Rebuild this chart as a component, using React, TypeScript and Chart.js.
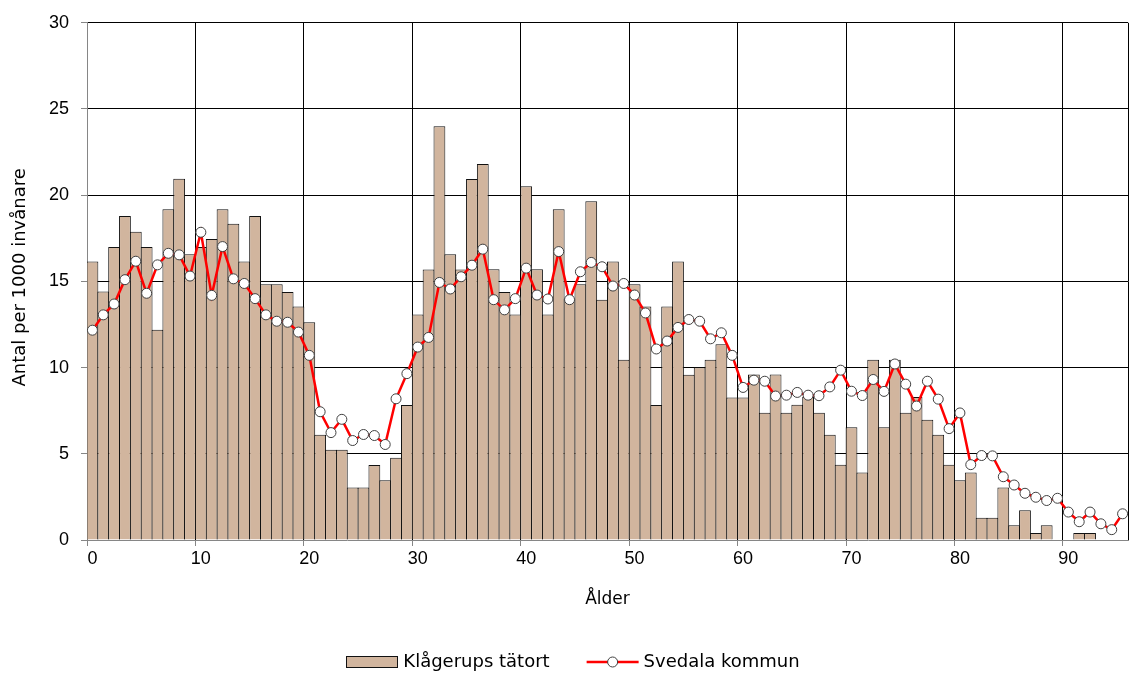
import { useEffect, useRef } from 'react';
import { Chart, registerables } from 'chart.js';

Chart.register(...registerables);

const TICK_FONT = 'Liberation Sans';
const TEXT_FONT = 'DejaVu Sans';

// Categories: age 0..95
const ages: string[] = Array.from({ length: 96 }, (_, i) => String(i));
const xTickLabels = ['0', '10', '20', '30', '40', '50', '60', '70', '80', '90'];

const yTitle = 'Antal per 1000 invånare';
const xTitle = 'Ålder';
const barName = 'Klågerups tätort';
const lineName = 'Svedala kommun';

const klagerup: number[] = [
  16.15, 14.42, 17.0, 18.79, 17.88, 17.0, 12.19, 19.19, 20.96, 16.58,
  17.0, 17.46, 19.19, 18.35, 16.15, 18.79, 14.83, 14.83, 14.38, 13.54,
  12.63, 6.1, 5.23, 5.23, 3.04, 3.04, 4.35, 3.46, 4.77, 7.83,
  13.08, 15.69, 24.0, 16.58, 15.69, 20.94, 21.81, 15.71, 14.38, 13.08,
  20.52, 15.71, 13.08, 19.19, 14.0, 14.83, 19.65, 13.94, 16.15, 10.46,
  14.83, 13.54, 7.83, 13.54, 16.15, 9.58, 10.02, 10.46, 11.35, 8.27,
  8.27, 9.6, 7.38, 9.6, 7.38, 7.85, 8.29, 7.38, 6.1, 4.37,
  6.54, 3.92, 10.46, 6.54, 10.46, 7.38, 8.29, 6.98, 6.1, 4.37,
  3.46, 3.92, 1.29, 1.29, 3.04, 0.85, 1.73, 0.4, 0.85, 0,
  0, 0.4, 0.4, 0, 0, 0,
];

const svedala: number[] = [
  12.17, 13.06, 13.69, 15.1, 16.17, 14.31, 15.96, 16.63, 16.54, 15.31,
  17.85, 14.19, 17.02, 15.15, 14.88, 14.0, 13.06, 12.69, 12.63, 12.06,
  10.71, 7.44, 6.23, 7.0, 5.77, 6.12, 6.06, 5.54, 8.19, 9.65,
  11.19, 11.75, 14.94, 14.56, 15.27, 15.94, 16.87, 13.94, 13.35, 14.0,
  15.77, 14.21, 13.98, 16.73, 13.94, 15.56, 16.1, 15.85, 14.73, 14.88,
  14.21, 13.17, 11.08, 11.54, 12.33, 12.79, 12.69, 11.67, 12.02, 10.71,
  8.85, 9.27, 9.21, 8.35, 8.4, 8.56, 8.4, 8.37, 8.88, 9.85,
  8.63, 8.38, 9.31, 8.62, 10.21, 9.04, 7.77, 9.21, 8.17, 6.46,
  7.37, 4.37, 4.9, 4.88, 3.67, 3.19, 2.71, 2.48, 2.29, 2.42,
  1.62, 1.06, 1.62, 0.94, 0.6, 1.52,
];

const BAR_FILL = '#D1B59E';
const BAR_EDGE = '#111111';
const LINE_RED = '#FF0000';
const AXIS_GRAY = '#868686';

const overlayPlugin = {
  id: 'overlay',
  afterDraw(chart: any) {
    const ctx = chart.ctx as CanvasRenderingContext2D;
    const area = chart.chartArea;
    ctx.save();
    ctx.font = `18px "${TEXT_FONT}"`;
    ctx.fillStyle = '#000';
    // y title
    ctx.save();
    ctx.translate(20, (area.top + area.bottom) / 2 - 4);
    ctx.rotate(-Math.PI / 2);
    ctx.textAlign = 'center';
    ctx.textBaseline = 'middle';
    ctx.fillText(yTitle, 0, 0);
    ctx.restore();

    // legend
    const cy = 662;
    const boxW = 51;
    const w1 = ctx.measureText(barName).width;
    const w2 = ctx.measureText(lineName).width;
    const total = boxW + 6 + w1 + 37 + 52 + 5 + w2;
    let x = 573 - total / 2;
    ctx.fillStyle = BAR_FILL;
    ctx.fillRect(x, cy - 5.5, boxW, 11);
    ctx.strokeStyle = BAR_EDGE;
    ctx.lineWidth = 1;
    ctx.strokeRect(Math.round(x) + 0.5, cy - 5.5, boxW, 11);
    x += boxW + 6;
    ctx.fillStyle = '#000';
    ctx.textAlign = 'left';
    ctx.textBaseline = 'middle';
    ctx.fillText(barName, x, cy);
    x += w1 + 37;
    ctx.strokeStyle = LINE_RED;
    ctx.lineWidth = 2.5;
    ctx.beginPath();
    ctx.moveTo(x, cy);
    ctx.lineTo(x + 52, cy);
    ctx.stroke();
    ctx.beginPath();
    ctx.arc(x + 26, cy, 5, 0, Math.PI * 2);
    ctx.fillStyle = '#fff';
    ctx.fill();
    ctx.strokeStyle = '#404040';
    ctx.lineWidth = 1;
    ctx.stroke();
    x += 52 + 5;
    ctx.fillStyle = '#000';
    ctx.fillText(lineName, x, cy);
    ctx.restore();
  },
};

export default function App() {
  const ref = useRef<HTMLCanvasElement | null>(null);

  useEffect(() => {
    document.body.style.margin = '0';
    const canvas = ref.current;
    if (!canvas) return;
    const chart = new Chart(canvas, {
      type: 'bar',
      data: {
        labels: ages,
        datasets: [
          {
            type: 'line',
            label: lineName,
            data: svedala,
            borderColor: LINE_RED,
            borderWidth: 2.5,
            pointRadius: 5,
            pointBackgroundColor: '#ffffff',
            pointBorderColor: '#404040',
            pointBorderWidth: 1,
            tension: 0,
            clip: false,
            order: 0,
          } as any,
          {
            type: 'bar',
            label: barName,
            data: klagerup,
            backgroundColor: BAR_FILL,
            borderColor: BAR_EDGE,
            borderWidth: 1,
            borderSkipped: 'bottom',
            categoryPercentage: 1,
            barPercentage: 1.09,
            order: 1,
          } as any,
        ],
      },
      options: {
        animation: false,
        responsive: false,
        events: [],
        layout: { autoPadding: false, padding: { left: 0, right: 1, top: 20, bottom: 65 } },
        plugins: {
          legend: { display: false },
          tooltip: { enabled: false },
        },
        scales: {
          x: {
            type: 'category',
            offset: true,
            grid: {
              offset: true,
              lineWidth: 1,
              tickLength: 6,
              color: (c: any) =>
                c.index === undefined || c.index % 10 === 0 ? '#000000' : 'rgba(0,0,0,0)',
              tickColor: (c: any) =>
                c.index !== undefined && c.index % 10 === 0 ? AXIS_GRAY : 'rgba(0,0,0,0)',
            },
            border: { color: AXIS_GRAY, width: 1 },
            ticks: {
              autoSkip: false,
              maxRotation: 0,
              minRotation: 0,
              padding: 2,
              color: '#000',
              font: { family: TICK_FONT, size: 18 },
              callback: (_v: any, i: number) =>
                xTickLabels.includes(ages[i]) ? ages[i] : '',
            },
            title: {
              display: true,
              text: xTitle,
              color: '#000',
              font: { family: TEXT_FONT, size: 17 },
              padding: { top: 0, bottom: 0 },
            },
            afterFit: (s: any) => {
              s.height = 70;
            },
          },
          y: {
            min: 0,
            max: 30,
            grid: {
              lineWidth: 1,
              tickLength: 6,
              color: (c: any) =>
                c.tick && c.tick.value === 0 ? 'rgba(0,0,0,0)' : '#000000',
              tickColor: AXIS_GRAY,
            },
            border: { color: AXIS_GRAY, width: 1 },
            ticks: {
              stepSize: 5,
              padding: 12,
              color: '#000',
              font: { family: TICK_FONT, size: 18 },
            },
            afterFit: (s: any) => {
              s.width = 87;
            },
          },
        },
      } as any,
      plugins: [overlayPlugin],
    });
    return () => chart.destroy();
  }, []);

  return (
    <div style={{ width: 1129, height: 675 }}>
      <canvas ref={ref} width={1129} height={675} />
    </div>
  );
}
